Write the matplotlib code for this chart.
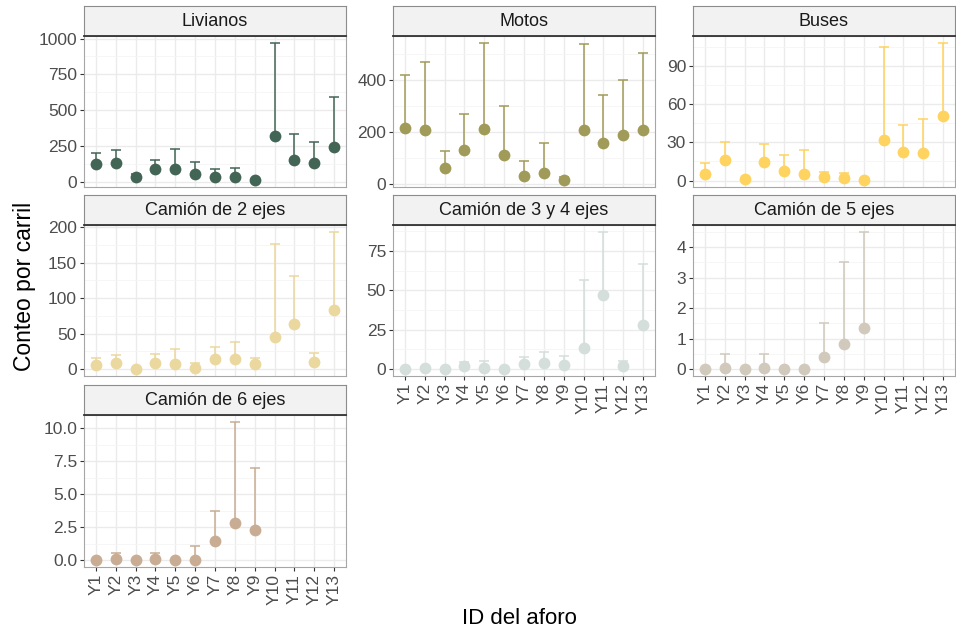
import numpy as np
import matplotlib
matplotlib.use("Agg")
import matplotlib.pyplot as plt
from matplotlib.ticker import FixedLocator, FormatStrFormatter

plt.rcParams['font.family'] = ['Liberation Sans', 'DejaVu Sans']

aforos = ['Y1', 'Y2', 'Y3', 'Y4', 'Y5', 'Y6', 'Y7', 'Y8', 'Y9', 'Y10', 'Y11', 'Y12', 'Y13']
nan = np.nan

# conteo medio por carril (punto) y limite superior (barra)
livianos = [120, 130, 35, 90, 85, 55, 30, 35, 10, 320, 150, 130, 245]
livianos_sup = [200, 222, 55, 152, 225, 140, 85, 95, 15, 970, 335, 275, 590]

motos = [212, 207, 61, 129, 209, 111, 29, 42, 13, 207, 157, 186, 207]
motos_sup = [418, 469, 124, 268, 541, 297, 86, 156, 26, 536, 340, 399, 502]

buses = [5.2, 16, 1, 14.7, 7.6, 5.2, 2.6, 1.6, 0.3, 31.7, 22.2, 21.5, 51]
buses_sup = [13.9, 30.4, 2, 28.8, 19.9, 24.1, 6.8, 6, 0.5, 104.7, 43.2, 48.2, 108]

c2 = [6, 8, 0, 9, 7.5, 2.3, 14, 14.5, 7.5, 45.4, 64, 10, 83]
c2_sup = [15.5, 19.7, 0.5, 21.5, 28, 8.4, 31.4, 38.9, 15.5, 177, 131, 23.4, 193.4]

c34 = [0, 0.6, 0, 1.7, 0.6, 0, 3.2, 3.8, 2.5, 13.5, 46.9, 1.7, 27.7]
c34_sup = [0, 1.5, 0, 4.6, 5.3, 0, 7.4, 11, 8.2, 56.6, 87, 5.3, 66.6]

c5 = [0, 0.03, 0, 0.03, 0, 0, 0.39, 0.84, 1.36, nan, nan, nan, nan]
c5_sup = [0, 0.5, 0, 0.5, 0, 0, 1.5, 3.51, 4.5, nan, nan, nan, nan]

c6 = [0, 0.08, 0, 0.05, 0, 0.03, 1.42, 2.82, 2.29, nan, nan, nan, nan]
c6_sup = [0, 0.5, 0, 0.5, 0, 1.04, 3.74, 10.48, 7.0, nan, nan, nan, nan]

paneles = [
    ('Livianos', livianos, livianos_sup, '#436556', [0, 250, 500, 750, 1000], '%d'),
    ('Motos', motos, motos_sup, '#A19B59', [0, 200, 400], '%d'),
    ('Buses', buses, buses_sup, '#FFD35F', [0, 30, 60, 90], '%d'),
    ('Camión de 2 ejes', c2, c2_sup, '#EBD89F', [0, 50, 100, 150, 200], '%d'),
    ('Camión de 3 y 4 ejes', c34, c34_sup, '#D4DFDB', [0, 25, 50, 75], '%d'),
    ('Camión de 5 ejes', c5, c5_sup, '#D1CABC', [0, 1, 2, 3, 4], '%d'),
    ('Camión de 6 ejes', c6, c6_sup, '#C8AD94', [0, 2.5, 5.0, 7.5, 10.0], '%.1f'),
]

W, H = 956, 631
fig = plt.figure(figsize=(W / 100, H / 100), dpi=100)

col_left = [84, 393, 693]
panel_w = 262
strip_top = [6, 195, 385]
strip_h = 30
panel_h = [151, 151, 152]
con_eje_x = {4, 5, 6}

x = np.arange(1, len(aforos) + 1)

for i, (titulo, y, ysup, color, ticks, fmt) in enumerate(paneles):
    fila, col = divmod(i, 3)
    left = col_left[col]
    top = strip_top[fila] + strip_h
    ax = fig.add_axes([left / W, 1 - (top + panel_h[fila]) / H, panel_w / W, panel_h[fila] / H])
    sax = fig.add_axes([left / W, 1 - top / H, panel_w / W, strip_h / H])

    y = np.array(y, dtype=float)
    ysup = np.array(ysup, dtype=float)
    for xi, lo, hi in zip(x, y, ysup):
        if np.isnan(lo):
            continue
        ax.plot([xi, xi], [lo, hi], color=color, lw=1.1, zorder=3, solid_capstyle='butt')
        ax.plot([xi - 0.25, xi + 0.25], [hi, hi], color=color, lw=1.1, zorder=3, solid_capstyle='butt')
    ax.plot(x, y, 'o', color=color, ms=8.5, mec='none', zorder=4)

    lo = np.nanmin(y)
    hi = np.nanmax(ysup)
    pad = (hi - lo) * 0.05
    ax.set_ylim(lo - pad, hi + pad)
    ax.set_xlim(0.4, 13.6)

    ax.yaxis.set_major_locator(FixedLocator(ticks))
    paso = ticks[1] - ticks[0]
    menores = np.arange(ticks[0] - paso / 2, hi + pad + paso, paso)
    ax.yaxis.set_minor_locator(FixedLocator(menores))
    ax.yaxis.set_major_formatter(FormatStrFormatter(fmt))
    ax.set_xticks(x)
    ax.grid(True, which='major', color='#EBEBEB', lw=1.0, zorder=0)
    ax.grid(True, which='minor', axis='y', color='#F5F5F5', lw=0.6, zorder=0)
    ax.set_axisbelow(True)
    ax.tick_params(axis='y', which='major', length=3, width=0.8, color='#333333',
                   labelsize=12.5, labelcolor='#4D4D4D', pad=2)
    ax.tick_params(axis='y', which='minor', length=0)
    if i in con_eje_x:
        ax.set_xticklabels(aforos, rotation=90)
        ax.tick_params(axis='x', length=3, width=0.8, color='#333333',
                       labelsize=12.5, labelcolor='#4D4D4D', pad=2)
    else:
        ax.tick_params(axis='x', length=0, labelbottom=False)
    for s in ax.spines.values():
        s.set_color('#A6A6A6')
        s.set_linewidth(0.8)

    sax.set_xticks([])
    sax.set_yticks([])
    sax.set_facecolor('#F2F2F2')
    for s in sax.spines.values():
        s.set_color('#8C8C8C')
        s.set_linewidth(0.8)
    sax.spines['bottom'].set_color('#333333')
    sax.spines['bottom'].set_linewidth(1.3)
    sax.text(0.5, 0.47, titulo, ha='center', va='center', fontsize=13,
             color='#1A1A1A', transform=sax.transAxes)

fig.text(25 / W, 1 - 286 / H, 'Conteo por carril', rotation=90, ha='center', va='center',
         fontsize=16.5, color='black')
fig.text(519 / W, 1 - 618 / H, 'ID del aforo', ha='center', va='center',
         fontsize=16, color='black')

fig.savefig('out.png', dpi=100, facecolor='white')
